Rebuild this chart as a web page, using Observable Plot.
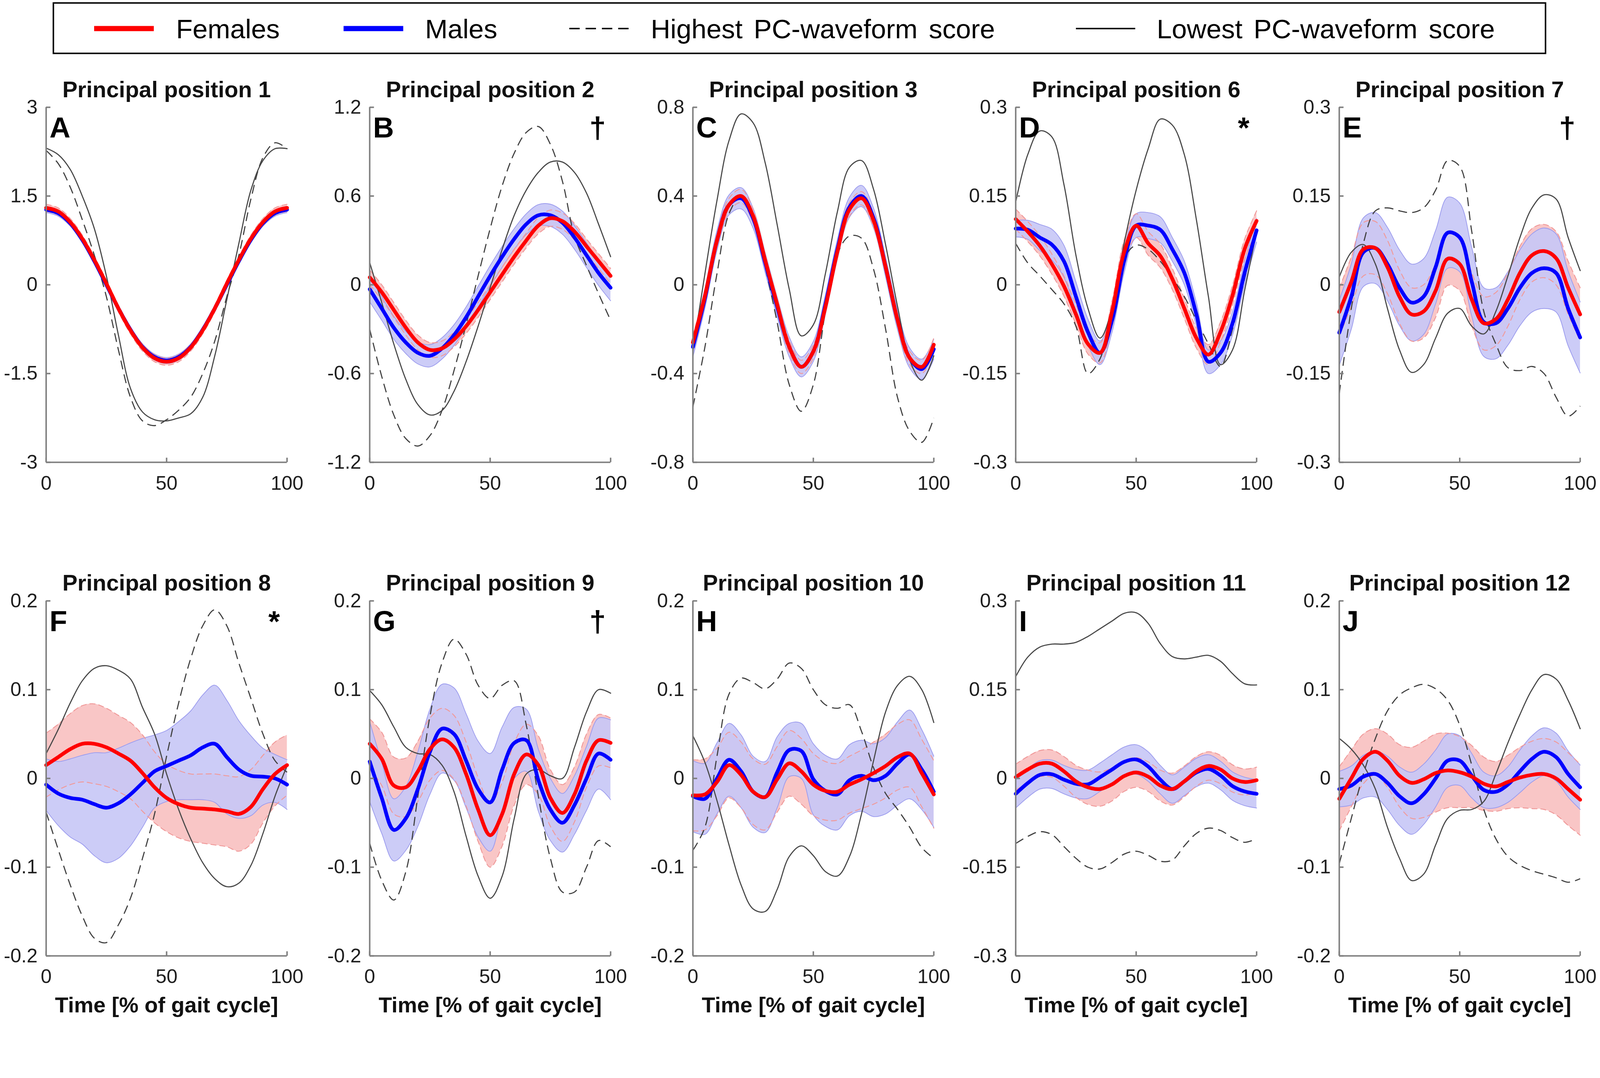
<!DOCTYPE html>
<html>
<head>
<meta charset="utf-8">
<script src="https://cdn.jsdelivr.net/npm/d3@7"></script>
<script src="https://cdn.jsdelivr.net/npm/@observablehq/plot@0.6"></script>
<style>
  html, body { margin: 0; padding: 0; background: #fff; overflow: hidden; }
  #wrap { position: absolute; left: 0; top: 0; width: 4317px; height: 2760px; background: #fff; overflow: hidden; transform-origin: 0 0; }
  #wrap svg { position: absolute; max-width: none; }
</style>
</head>
<body>
<div id="wrap"></div>
<script>
// ---------- time grid (% of gait cycle) ----------
const xs = [0,5,10,15,20,25,30,35,40,45,50,55,60,65,70,75,80,85,90,95,100];
const xTicks = [0, 50, 100];

// ---------- panel meta ----------
const titles  = ["Principal position 1","Principal position 2","Principal position 3","Principal position 6","Principal position 7",
                 "Principal position 8","Principal position 9","Principal position 10","Principal position 11","Principal position 12"];
const letters = ["A","B","C","D","E","F","G","H","I","J"];
const symbols = ["","†","","*","†","*","†","","",""];
const yTicksA = [3, 1.5, 0, -1.5, -3];
const yTicksB = [1.2, 0.6, 0, -0.6, -1.2];
const yTicksC = [0.8, 0.4, 0, -0.4, -0.8];
const yTicksD = [0.3, 0.15, 0, -0.15, -0.3];
const yTicksE = [0.3, 0.15, 0, -0.15, -0.3];
const yTicksF = [0.2, 0.1, 0, -0.1, -0.2];
const yTicksG = [0.2, 0.1, 0, -0.1, -0.2];
const yTicksH = [0.2, 0.1, 0, -0.1, -0.2];
const yTicksI = [0.3, 0.15, 0, -0.15, -0.3];
const yTicksJ = [0.2, 0.1, 0, -0.1, -0.2];
const xTitle = "Time [% of gait cycle]";
const legendLabels = ["Females", "Males", "Highest PC-waveform score", "Lowest PC-waveform score"];

// ---------- A ----------
const femA   = [1.30,1.24,1.06,0.78,0.42,0.02,-0.40,-0.77,-1.06,-1.24,-1.30,-1.24,-1.06,-0.77,-0.40,0.02,0.42,0.78,1.06,1.24,1.30];
const femSdA = [0.06,0.06,0.06,0.06,0.06,0.06,0.06,0.06,0.06,0.06,0.06,0.06,0.06,0.06,0.06,0.06,0.06,0.06,0.06,0.06,0.06];
const malA   = [1.27,1.21,1.04,0.76,0.40,0.00,-0.40,-0.76,-1.05,-1.22,-1.28,-1.22,-1.05,-0.76,-0.40,0.00,0.40,0.76,1.04,1.21,1.27];
const malSdA = [0.05,0.05,0.05,0.05,0.05,0.05,0.05,0.05,0.05,0.05,0.05,0.05,0.05,0.05,0.05,0.05,0.05,0.05,0.05,0.05,0.05];
const highA  = [2.27,2.05,1.65,1.10,0.50,-0.20,-1.10,-1.90,-2.30,-2.38,-2.28,-2.12,-1.90,-1.50,-0.95,-0.20,0.50,1.45,2.15,2.40,2.30];
const lowA   = [2.31,2.20,1.95,1.50,0.95,0.15,-0.85,-1.75,-2.15,-2.28,-2.30,-2.25,-2.18,-1.90,-1.20,-0.25,0.70,1.60,2.10,2.30,2.30];

// ---------- B ----------
const femB   = [0.05,-0.05,-0.17,-0.29,-0.39,-0.44,-0.43,-0.37,-0.28,-0.17,-0.05,0.07,0.19,0.30,0.40,0.45,0.43,0.36,0.26,0.16,0.06];
const femSdB = [0.05,0.05,0.05,0.05,0.05,0.05,0.05,0.05,0.05,0.05,0.05,0.05,0.05,0.05,0.055,0.055,0.055,0.055,0.05,0.05,0.05];
const malB   = [-0.03,-0.16,-0.29,-0.39,-0.46,-0.48,-0.43,-0.34,-0.22,-0.08,0.06,0.19,0.31,0.41,0.47,0.47,0.42,0.32,0.20,0.08,-0.02];
const malSdB = [0.085,0.08,0.078,0.075,0.075,0.075,0.072,0.07,0.07,0.07,0.07,0.07,0.07,0.07,0.072,0.075,0.078,0.08,0.083,0.085,0.088];
const highB  = [-0.30,-0.62,-0.88,-1.04,-1.09,-1.02,-0.85,-0.58,-0.27,0.06,0.38,0.67,0.89,1.03,1.07,0.95,0.70,0.33,0.13,-0.06,-0.24];
const lowB   = [0.15,-0.12,-0.40,-0.64,-0.81,-0.88,-0.85,-0.72,-0.52,-0.28,-0.02,0.24,0.47,0.64,0.76,0.83,0.83,0.76,0.62,0.41,0.19];

// ---------- C ----------
const femC   = [-0.26,-0.05,0.20,0.36,0.40,0.31,0.11,-0.09,-0.28,-0.37,-0.30,-0.10,0.15,0.34,0.39,0.29,0.08,-0.16,-0.33,-0.37,-0.27];
const femSdC = [0.03,0.03,0.03,0.03,0.03,0.03,0.03,0.03,0.03,0.03,0.03,0.03,0.03,0.03,0.03,0.03,0.03,0.03,0.03,0.03,0.03];
const malC   = [-0.28,-0.06,0.20,0.36,0.39,0.30,0.10,-0.10,-0.28,-0.37,-0.30,-0.09,0.16,0.35,0.40,0.30,0.08,-0.16,-0.33,-0.38,-0.29];
const malSdC = [0.045,0.045,0.045,0.045,0.048,0.045,0.045,0.045,0.045,0.045,0.045,0.045,0.045,0.045,0.048,0.045,0.045,0.045,0.045,0.045,0.045];
const highC  = [-0.55,-0.28,0.05,0.32,0.40,0.30,0.08,-0.17,-0.45,-0.57,-0.45,-0.12,0.14,0.22,0.21,0.07,-0.20,-0.51,-0.66,-0.71,-0.60];
const lowC   = [-0.30,0.05,0.38,0.65,0.77,0.73,0.55,0.27,-0.02,-0.23,-0.18,0.05,0.33,0.53,0.56,0.43,0.18,-0.10,-0.34,-0.43,-0.32];

// ---------- D ----------
const femD   = [0.111,0.09,0.066,0.035,-0.002,-0.05,-0.10,-0.115,-0.045,0.055,0.10,0.07,0.049,0.01,-0.04,-0.09,-0.118,-0.08,-0.018,0.06,0.108];
const femSdD = [0.017,0.017,0.017,0.017,0.017,0.017,0.017,0.017,0.018,0.02,0.02,0.02,0.02,0.018,0.017,0.017,0.017,0.017,0.017,0.017,0.017];
const malD   = [0.095,0.093,0.08,0.068,0.04,-0.02,-0.08,-0.115,-0.06,0.04,0.10,0.10,0.093,0.06,0.02,-0.05,-0.13,-0.115,-0.065,0.02,0.092];
const malSdD = [0.014,0.016,0.022,0.026,0.027,0.025,0.022,0.02,0.02,0.02,0.02,0.022,0.022,0.02,0.02,0.02,0.02,0.02,0.02,0.02,0.02];
const highD  = [0.07,0.037,0.015,-0.008,-0.032,-0.07,-0.15,-0.125,-0.04,0.045,0.067,0.06,0.04,0.012,-0.02,-0.06,-0.10,-0.138,-0.075,0.01,0.092];
const lowD   = [0.14,0.22,0.26,0.25,0.17,0.05,-0.04,-0.09,-0.04,0.07,0.16,0.23,0.28,0.27,0.22,0.11,-0.02,-0.135,-0.11,-0.01,0.09];

// ---------- E ----------
const femE   = [-0.046,0.005,0.06,0.062,0.03,-0.02,-0.05,-0.045,-0.01,0.044,0.035,-0.025,-0.065,-0.058,-0.025,0.02,0.05,0.057,0.045,-0.005,-0.05];
const femSdE = [0.04,0.042,0.045,0.045,0.045,0.045,0.045,0.045,0.045,0.045,0.045,0.045,0.045,0.045,0.045,0.045,0.045,0.045,0.045,0.045,0.045];
const malE   = [-0.081,-0.02,0.055,0.062,0.035,-0.005,-0.03,-0.02,0.03,0.088,0.08,0.005,-0.063,-0.065,-0.04,-0.005,0.02,0.028,0.02,-0.04,-0.089];
const malSdE = [0.055,0.055,0.058,0.06,0.062,0.064,0.065,0.064,0.062,0.06,0.058,0.058,0.058,0.06,0.062,0.064,0.066,0.068,0.066,0.063,0.06];
const highE  = [-0.184,-0.04,0.07,0.125,0.13,0.125,0.122,0.13,0.16,0.21,0.20,0.09,-0.045,-0.10,-0.14,-0.145,-0.138,-0.15,-0.19,-0.222,-0.205];
const lowE   = [0.013,0.055,0.068,0.035,-0.04,-0.11,-0.148,-0.135,-0.09,-0.048,-0.04,-0.07,-0.083,-0.045,0.015,0.08,0.13,0.152,0.145,0.08,0.024];

// ---------- F ----------
const femF   = [0.015,0.024,0.033,0.039,0.039,0.035,0.028,0.02,0.006,-0.01,-0.022,-0.029,-0.033,-0.034,-0.035,-0.037,-0.040,-0.032,-0.012,0.005,0.015];
const femSdF = [0.036,0.037,0.04,0.043,0.045,0.044,0.043,0.043,0.043,0.04,0.038,0.038,0.038,0.039,0.04,0.04,0.042,0.042,0.038,0.036,0.034];
const malF   = [-0.007,-0.017,-0.022,-0.024,-0.029,-0.033,-0.028,-0.018,-0.005,0.008,0.014,0.02,0.026,0.035,0.039,0.024,0.01,0.003,0.002,0.0,-0.007];
const malSdF = [0.029,0.036,0.044,0.05,0.058,0.062,0.062,0.058,0.05,0.041,0.04,0.044,0.05,0.059,0.066,0.064,0.055,0.045,0.032,0.027,0.028];
const highF  = [-0.038,-0.08,-0.12,-0.155,-0.18,-0.185,-0.165,-0.135,-0.09,-0.04,0.025,0.085,0.135,0.172,0.19,0.172,0.13,0.09,0.05,0.02,0.007];
const lowF   = [0.028,0.055,0.085,0.11,0.124,0.127,0.122,0.112,0.08,0.05,0.005,-0.035,-0.068,-0.095,-0.113,-0.122,-0.118,-0.098,-0.062,-0.02,0.014];

// ---------- G ----------
const femG   = [0.039,0.022,-0.008,-0.01,0.008,0.033,0.044,0.035,0.005,-0.035,-0.064,-0.04,0.005,0.027,0.015,-0.022,-0.039,-0.018,0.02,0.043,0.04];
const femSdG = [0.028,0.03,0.032,0.033,0.034,0.035,0.035,0.036,0.036,0.036,0.036,0.036,0.035,0.034,0.033,0.032,0.032,0.031,0.03,0.029,0.028];
const malG   = [0.019,-0.022,-0.058,-0.045,-0.012,0.03,0.056,0.05,0.02,-0.012,-0.027,0.01,0.04,0.043,-0.002,-0.035,-0.05,-0.03,0.0,0.028,0.021];
const malSdG = [0.045,0.04,0.035,0.036,0.042,0.048,0.05,0.052,0.053,0.054,0.055,0.048,0.04,0.035,0.035,0.035,0.033,0.033,0.036,0.04,0.045];
const highG  = [-0.073,-0.115,-0.137,-0.105,-0.02,0.07,0.13,0.157,0.14,0.105,0.09,0.105,0.11,0.06,-0.02,-0.09,-0.128,-0.128,-0.1,-0.07,-0.077];
const lowG   = [0.099,0.083,0.058,0.035,0.028,0.027,0.015,-0.015,-0.065,-0.11,-0.135,-0.11,-0.045,0.005,0.01,0.003,0.0,0.035,0.075,0.1,0.096];

// ---------- H ----------
const femH   = [-0.019,-0.018,-0.004,0.015,0.004,-0.015,-0.021,-0.001,0.017,0.008,-0.007,-0.014,-0.015,-0.007,-0.001,0.006,0.014,0.024,0.028,0.006,-0.018];
const femSdH = [0.04,0.04,0.038,0.037,0.037,0.037,0.037,0.037,0.037,0.037,0.035,0.033,0.032,0.032,0.033,0.035,0.036,0.037,0.038,0.038,0.038];
const malH   = [-0.02,-0.023,0.0,0.021,0.008,-0.015,-0.021,0.007,0.032,0.031,-0.001,-0.014,-0.018,-0.002,0.003,-0.002,0.003,0.017,0.027,0.01,-0.015];
const malSdH = [0.04,0.04,0.04,0.041,0.041,0.04,0.04,0.04,0.03,0.031,0.04,0.04,0.04,0.04,0.04,0.041,0.043,0.047,0.05,0.045,0.04];
const highH  = [-0.081,-0.055,0.025,0.095,0.113,0.108,0.101,0.112,0.13,0.124,0.1,0.083,0.079,0.083,0.053,0.012,-0.017,-0.035,-0.055,-0.078,-0.09];
const lowH   = [0.048,0.018,-0.025,-0.075,-0.12,-0.147,-0.15,-0.125,-0.088,-0.076,-0.087,-0.105,-0.11,-0.088,-0.04,0.02,0.075,0.105,0.115,0.1,0.063];

// ---------- I ----------
const femI   = [0.002,0.015,0.025,0.025,0.012,-0.005,-0.015,-0.018,-0.01,0.004,0.01,0.003,-0.012,-0.018,-0.005,0.012,0.021,0.015,0.0,-0.006,-0.003];
const femSdI = [0.022,0.022,0.022,0.023,0.025,0.027,0.029,0.029,0.028,0.026,0.025,0.025,0.026,0.027,0.026,0.025,0.024,0.024,0.023,0.022,0.022];
const malI   = [-0.026,-0.008,0.006,0.007,-0.002,-0.009,-0.01,0.002,0.015,0.028,0.032,0.02,-0.002,-0.018,-0.005,0.01,0.016,0.005,-0.013,-0.022,-0.026];
const malSdI = [0.024,0.024,0.024,0.024,0.024,0.024,0.024,0.024,0.025,0.025,0.025,0.025,0.024,0.024,0.024,0.024,0.024,0.024,0.024,0.024,0.024];
const highI  = [-0.11,-0.098,-0.09,-0.095,-0.115,-0.135,-0.15,-0.153,-0.142,-0.128,-0.123,-0.13,-0.14,-0.138,-0.114,-0.093,-0.084,-0.088,-0.1,-0.108,-0.102];
const lowI   = [0.172,0.205,0.222,0.227,0.227,0.23,0.24,0.253,0.266,0.279,0.28,0.262,0.228,0.206,0.202,0.205,0.208,0.198,0.177,0.16,0.158];

// ---------- J ----------
const femJ   = [-0.023,0.0,0.022,0.03,0.02,0.003,-0.005,-0.001,0.006,0.009,0.007,0.002,-0.006,-0.009,-0.004,0.001,0.004,0.005,0.0,-0.012,-0.024];
const femSdJ = [0.036,0.032,0.028,0.026,0.03,0.035,0.04,0.043,0.044,0.042,0.04,0.035,0.03,0.028,0.03,0.034,0.038,0.04,0.041,0.041,0.04];
const malJ   = [-0.012,-0.008,0.002,0.005,-0.005,-0.02,-0.028,-0.018,0.0,0.02,0.02,0.003,-0.013,-0.015,-0.007,0.008,0.022,0.03,0.024,0.005,-0.01];
const malSdJ = [0.02,0.022,0.024,0.026,0.03,0.033,0.035,0.034,0.032,0.03,0.028,0.025,0.02,0.018,0.02,0.024,0.026,0.027,0.027,0.026,0.025];
const highJ  = [-0.096,-0.045,0.005,0.045,0.076,0.094,0.102,0.106,0.101,0.088,0.06,0.015,-0.035,-0.068,-0.088,-0.098,-0.104,-0.108,-0.112,-0.117,-0.113];
const lowJ   = [0.045,0.033,0.015,-0.012,-0.055,-0.09,-0.115,-0.108,-0.075,-0.045,-0.036,-0.035,-0.026,0.005,0.04,0.072,0.1,0.117,0.112,0.088,0.056];

// ---------- assemble ----------
const panels = [
  {fem: femA, femSd: femSdA, mal: malA, malSd: malSdA, high: highA, low: lowA, yTicks: yTicksA},
  {fem: femB, femSd: femSdB, mal: malB, malSd: malSdB, high: highB, low: lowB, yTicks: yTicksB},
  {fem: femC, femSd: femSdC, mal: malC, malSd: malSdC, high: highC, low: lowC, yTicks: yTicksC},
  {fem: femD, femSd: femSdD, mal: malD, malSd: malSdD, high: highD, low: lowD, yTicks: yTicksD},
  {fem: femE, femSd: femSdE, mal: malE, malSd: malSdE, high: highE, low: lowE, yTicks: yTicksE},
  {fem: femF, femSd: femSdF, mal: malF, malSd: malSdF, high: highF, low: lowF, yTicks: yTicksF},
  {fem: femG, femSd: femSdG, mal: malG, malSd: malSdG, high: highG, low: lowG, yTicks: yTicksG},
  {fem: femH, femSd: femSdH, mal: malH, malSd: malSdH, high: highH, low: lowH, yTicks: yTicksH},
  {fem: femI, femSd: femSdI, mal: malI, malSd: malSdI, high: highI, low: lowI, yTicks: yTicksI},
  {fem: femJ, femSd: femSdJ, mal: malJ, malSd: malSdJ, high: highJ, low: lowJ, yTicks: yTicksJ}
];

const FONT = "'Liberation Sans', Arial, Helvetica, sans-serif";
const PW = 650, PH = 958;
const ML = 130, MR = 40, MT = 110, MB = 175;
const colLeft = [124, 997, 1869, 2740, 3613];
const rowTop = [289, 1621];
const AXIS = "#7f7f7f";
const curve = "catmull-rom";
const wrap = document.getElementById("wrap");

// fit the 4317x2760 layout to the actual viewport
(function fit() {
  const vw = window.innerWidth || document.documentElement.clientWidth || 4317;
  const s = vw / 4317;
  if (Math.abs(s - 1) > 0.002) wrap.style.transform = "scale(" + s + ")";
})();

panels.forEach((p, k) => {
  const row = k < 5 ? 0 : 1, col = k % 5;
  const data = xs.map((x, i) => ({
    x,
    f: p.fem[i], fLo: p.fem[i] - p.femSd[i], fHi: p.fem[i] + p.femSd[i],
    m: p.mal[i], mLo: p.mal[i] - p.malSd[i], mHi: p.mal[i] + p.malSd[i],
    hi: p.high[i], lo: p.low[i]
  }));
  const ymax = p.yTicks[0], ymin = p.yTicks[p.yTicks.length - 1];
  const marks = [
    Plot.areaY(data, {x: "x", y1: "fLo", y2: "fHi", fill: "#f9c6c6", curve}),
    Plot.areaY(data, {x: "x", y1: "mLo", y2: "mHi", fill: "#c6c6f6", fillOpacity: 0.9, curve}),
    Plot.lineY(data, {x: "x", y: "mLo", stroke: "#9c9cee", strokeWidth: 2, curve}),
    Plot.lineY(data, {x: "x", y: "mHi", stroke: "#9c9cee", strokeWidth: 2, curve}),
    Plot.lineY(data, {x: "x", y: "fLo", stroke: "#f09a9a", strokeWidth: 2.5, strokeDasharray: "14,10", curve}),
    Plot.lineY(data, {x: "x", y: "fHi", stroke: "#f09a9a", strokeWidth: 2.5, strokeDasharray: "14,10", curve}),
    Plot.lineY(data, {x: "x", y: "hi", stroke: "#404040", strokeWidth: 3, strokeDasharray: "24,14", strokeLinecap: "butt", curve}),
    Plot.lineY(data, {x: "x", y: "lo", stroke: "#484848", strokeWidth: 3, curve}),
    Plot.lineY(data, {x: "x", y: "m", stroke: "#0000ff", strokeWidth: 10, curve}),
    Plot.lineY(data, {x: "x", y: "f", stroke: "#ff0000", strokeWidth: 10, curve}),
    // axes (MATLAB style, inward ticks)
    Plot.ruleX([0], {y1: ymin, y2: ymax, stroke: AXIS, strokeWidth: 4}),
    Plot.ruleY([ymin], {x1: 0, x2: 100, stroke: AXIS, strokeWidth: 4}),
    Plot.tickX(xTicks, {x: d => d, insetTop: PH - 12, stroke: AXIS, strokeWidth: 4}),
    Plot.tickY(p.yTicks, {y: d => d, insetRight: PW - 12, stroke: AXIS, strokeWidth: 4}),
    Plot.axisX({ticks: xTicks, tickSize: 0, tickPadding: 36, label: null, tickFormat: d => String(d), fontSize: 53}),
    Plot.axisY({ticks: p.yTicks, tickSize: 0, tickPadding: 23, label: null, tickFormat: d => String(d), fontSize: 53}),
    Plot.text([titles[k]], {text: d => d, frameAnchor: "top", dy: -47, lineAnchor: "middle", textAnchor: "middle",
      fontSize: 61, fontWeight: "bold", fill: "#111"}),
    Plot.text([letters[k]], {text: d => d, frameAnchor: "top-left", dx: 9, dy: 26, lineAnchor: "top", textAnchor: "start",
      fontSize: 78, fontWeight: "bold", fill: "#000"})
  ];
  if (symbols[k]) {
    marks.push(Plot.text([symbols[k]], {text: d => d, frameAnchor: "top-right", dx: -35, dy: 26, lineAnchor: "top",
      textAnchor: "middle", fontSize: 80, fontWeight: "bold", fill: "#000"}));
  }
  if (row === 1) {
    marks.push(Plot.text([xTitle], {text: d => d, frameAnchor: "bottom", dy: 133, lineAnchor: "middle",
      textAnchor: "middle", fontSize: 59, fontWeight: "bold", fill: "#111"}));
  }
  const svg = Plot.plot({
    width: ML + PW + MR, height: MT + PH + MB,
    marginLeft: ML, marginRight: MR, marginTop: MT, marginBottom: MB,
    x: {domain: [0, 100]},
    y: {domain: [ymin, ymax]},
    style: {fontFamily: FONT, fontSize: "53px", color: "#1e1e1e", background: "transparent", overflow: "visible"},
    marks
  });
  svg.style.left = (colLeft[col] - ML) + "px";
  svg.style.top = (rowTop[row] - MT) + "px";
  svg.style.maxWidth = "none";
  wrap.appendChild(svg);
});

// ---------- legend ----------
const NS = "http://www.w3.org/2000/svg";
const leg = document.createElementNS(NS, "svg");
leg.setAttribute("width", 4317); leg.setAttribute("height", 160);
leg.style.left = "0px"; leg.style.top = "0px";
function el(tag, attrs, txt) {
  const e = document.createElementNS(NS, tag);
  for (const k in attrs) e.setAttribute(k, attrs[k]);
  if (txt) e.textContent = txt;
  leg.appendChild(e); return e;
}
el("rect", {x: 144, y: 8, width: 4026, height: 136, fill: "#fff", stroke: "#000", "stroke-width": 4});
const legItems = [
  {x1: 254, x2: 415, stroke: "#ff0000", w: 14, dash: null, tx: 475},
  {x1: 927, x2: 1088, stroke: "#0000ff", w: 14, dash: null, tx: 1147},
  {x1: 1536, x2: 1697, stroke: "#000", w: 4, dash: "28,16", tx: 1756},
  {x1: 2903, x2: 3063, stroke: "#000", w: 4, dash: null, tx: 3121}
];
legItems.forEach((it, i) => {
  const a = {x1: it.x1, x2: it.x2, y1: 77, y2: 77, stroke: it.stroke, "stroke-width": it.w};
  if (it.dash) a["stroke-dasharray"] = it.dash;
  el("line", a);
  el("text", {x: it.tx, y: 103, "font-family": FONT, "font-size": 73, fill: "#000", "word-spacing": 10}, legendLabels[i]);
});
wrap.appendChild(leg);
</script>
</body>
</html>
